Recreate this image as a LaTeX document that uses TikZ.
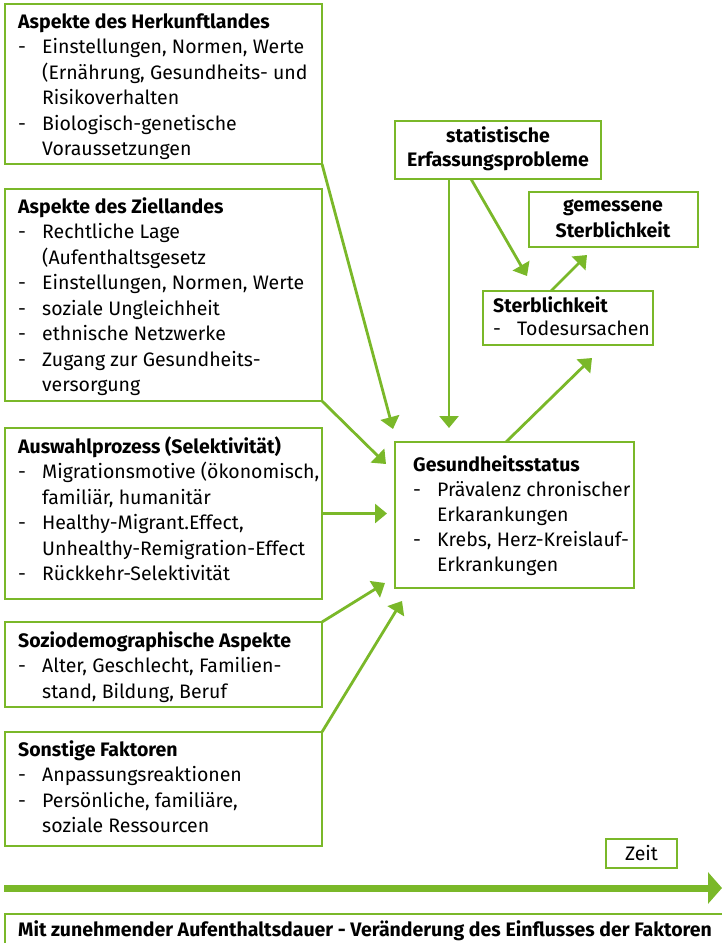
\documentclass[tikz,border=0pt]{standalone}
\usepackage{fontspec}
\setmainfont{Fira Sans}
\usetikzlibrary{arrows.meta}
\definecolor{gr}{RGB}{122,184,41}
\newcommand\hd[1]{\hbox{\bfseries #1}}
\newcommand\li[1]{\hbox{\makebox[24pt][l]{-}#1}}
\newcommand\lc[1]{\hbox{\hspace*{24pt}#1}}
\newcommand\blk[2][25.5pt]{\vtop{\baselineskip=#1\lineskiplimit=-50pt #2}}
\tikzset{
  box/.style={draw=gr, line width=2.5pt, outer sep=0pt, inner sep=0pt, anchor=north west},
  txt/.style={anchor=base west, inner sep=0pt, font=\fontsize{19.5}{25.5}\selectfont},
  ctxt/.style={txt, anchor=base, font=\fontsize{19.5}{25.5}\selectfont\bfseries},
  conn/.style={draw=gr, line width=2.8pt, -{Triangle[length=12pt,width=19pt]}},
}
\begin{document}
\begin{tikzpicture}[x=1pt,y=-1pt]
\useasboundingbox (0,0) rectangle (721,943);
% boxes
\node[box, minimum width=317pt, minimum height=160pt] (herk) at (5,4) {};
\node[box, minimum width=317pt, minimum height=212pt] (ziel) at (5,189) {};
\node[box, minimum width=317pt, minimum height=171pt] (ausw) at (5,428) {};
\node[box, minimum width=317pt, minimum height=85pt] (sozio) at (5,622) {};
\node[box, minimum width=317pt, minimum height=114pt] (sonst) at (5,732) {};
\node[box, minimum width=206pt, minimum height=58pt] (stat) at (395,121) {};
\node[box, minimum width=169pt, minimum height=55pt] (gem) at (529,192) {};
\node[box, minimum width=170pt, minimum height=54pt] (sterb) at (483,291) {};
\node[box, minimum width=239pt, minimum height=146pt] (ges) at (395,442) {};
\node[box, minimum width=71pt, minimum height=29pt] (zeit) at (606,839) {};
\node[box, minimum width=740pt, minimum height=40pt] (bottom) at (5,914) {};
% texts
\node[txt] (herkT) at (18,28) {\blk{\hd{Aspekte des Herkunftlandes}
  \li{Einstellungen, Normen, Werte}
  \lc{(Ernährung, Gesundheits- und}
  \lc{Risikoverhalten}
  \li{Biologisch-genetische}
  \lc{Voraussetzungen}}};
\node[txt] (zielT) at (18,213) {\blk{\hd{Aspekte des Ziellandes}
  \li{Rechtliche Lage}
  \lc{(Aufenthaltsgesetz}
  \li{Einstellungen, Normen, Werte}
  \li{soziale Ungleichheit}
  \li{ethnische Netzwerke}
  \li{Zugang zur Gesundheits-}
  \lc{versorgung}}};
\node[txt] (auswT) at (18,453) {\blk{\hd{Auswahlprozess (Selektivität)}
  \li{Migrationsmotive (ökonomisch,}
  \lc{familiär, humanitär}
  \li{Healthy-Migrant.Effect,}
  \lc{Unhealthy-Remigration-Effect}
  \li{Rückkehr-Selektivität}}};
\node[txt] (soziT) at (18,647) {\blk{\hd{Soziodemographische Aspekte}
  \li{Alter, Geschlecht, Familien-}
  \lc{stand, Bildung, Beruf}}};
\node[txt] (sonstT) at (18,756) {\blk{\hd{Sonstige Faktoren}
  \li{Anpassungsreaktionen}
  \li{Persönliche, familiäre,}
  \lc{soziale Ressourcen}}};
\node[txt] (gesT) at (413,471) {\blk[25pt]{\hd{Gesundheitsstatus}
  \li{Prävalenz chronischer}
  \lc{Erkarankungen}
  \li{Krebs, Herz-Kreislauf-}
  \lc{Erkrankungen}}};
\node[txt] (sterbT) at (493,312) {\blk[23.5pt]{\hd{Sterblichkeit}
  \li{Todesursachen}}};
\node[ctxt] (stat1) at (498,142) {statistische};
\node[ctxt] (stat2) at (498,166) {Erfassungsprobleme};
\node[ctxt] (gem1) at (613,211) {gemessene};
\node[ctxt] (gem2) at (613,237) {Sterblichkeit};
\node[txt, anchor=base] (zeitT) at (641.5,860) {Zeit};
\node[txt, font=\fontsize{19.5}{25.5}\selectfont\bfseries] (botT) at (18,936) {Mit zunehmender Aufenthaltsdauer - Veränderung des Einflusses der Faktoren};
% free ends
\coordinate (t1) at (393,429);
\coordinate (t2) at (386,464);
\coordinate (t3) at (387,513.5);
\coordinate (t4) at (385,583);
\coordinate (t5) at (402,601);
\coordinate (t6) at (449,428);
\coordinate (t7) at (527,276);
\coordinate (t8) at (592,358);
\coordinate (t9) at (587,255);
\coordinate (tl0) at (4,888);
\coordinate (tl1) at (722,888);
% connectors
\draw[conn] (herk.south east) -- (t1);
\draw[conn] (ziel.south east) -- (t2);
\draw[conn] (ausw.east) -- (t3);
\draw[conn] (sozio.north east) -- (t4);
\draw[conn] (sonst.north east) -- (t5);
\draw[conn] (stat.south -| t6) -- (t6);
\draw[conn] ([xshift=-27pt]stat.south) -- (t7);
\draw[conn] ([xshift=-8.5pt]ges.north) -- (t8);
\draw[conn] ([xshift=-17pt]sterb.north) -- (t9);
\draw[draw=gr, line width=7pt, -{Triangle[length=14pt,width=31pt]}] (tl0) -- (tl1);
\end{tikzpicture}
\end{document}
